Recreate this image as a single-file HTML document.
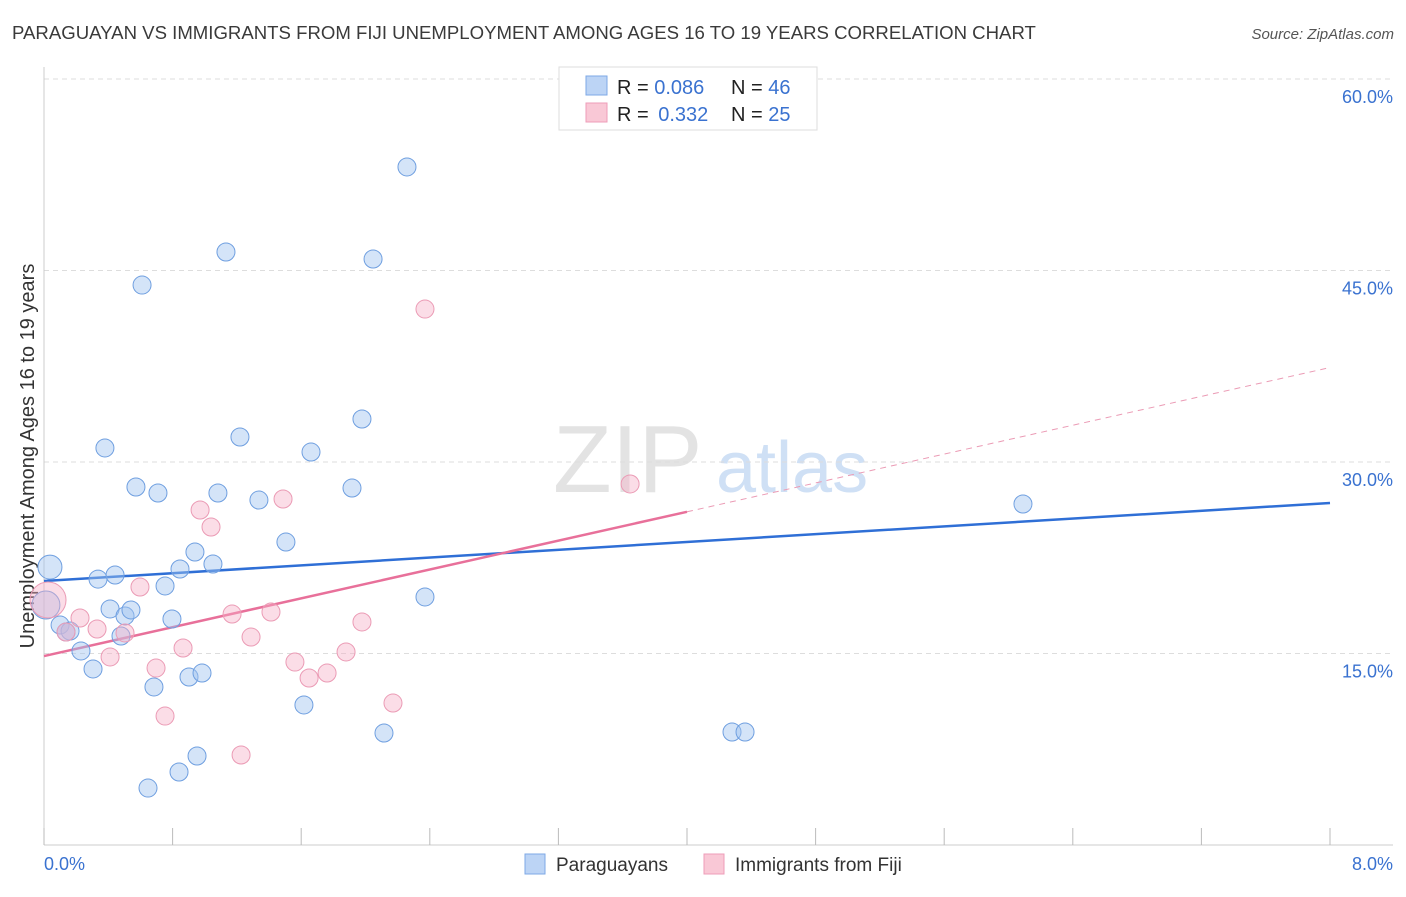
<!DOCTYPE html>
<html><head><meta charset="utf-8"><style>
body{margin:0;background:#fff;font-family:"Liberation Sans",sans-serif}
svg text{font-family:"Liberation Sans",sans-serif}
</style></head><body>
<svg id="chart" width="1406" height="892" viewBox="0 0 1406 892" xmlns="http://www.w3.org/2000/svg">
<text x="12" y="39" font-size="18.6" fill="#3a3a3a">PARAGUAYAN VS IMMIGRANTS FROM FIJI UNEMPLOYMENT AMONG AGES 16 TO 19 YEARS CORRELATION CHART</text>
<text x="1394" y="39" font-size="15" fill="#555" text-anchor="end" font-style="italic">Source: ZipAtlas.com</text>
<g>
<text x="553" y="492" font-size="96" font-family="Liberation Serif" fill="#e3e3e3">ZIP</text>
<text x="716" y="492" font-size="72" fill="#cfe0f5">atlas</text>
</g>
<g id="grid"></g>
<line x1="44" y1="67" x2="44" y2="845" stroke="#ccc"/>
<line x1="44" y1="845" x2="1393" y2="845" stroke="#ccc"/>
<g id="xticks"></g>
<text transform="translate(34,456) rotate(-90)" font-size="20" fill="#333" text-anchor="middle">Unemployment Among Ages 16 to 19 years</text>
<text x="44" y="870" font-size="18" fill="#3a72d0">0.0%</text>
<text x="1393" y="870" font-size="18" fill="#3a72d0" text-anchor="end">8.0%</text>
<g id="lines"></g>
<g id="points"></g>
<g>
<rect x="559" y="67" width="258" height="63" fill="#fff" stroke="#ddd"/>
<rect x="586" y="76" width="21" height="19" fill="#bcd4f5" stroke="#7ea8e6"/>
<rect x="586" y="103" width="21" height="19" fill="#f9c8d6" stroke="#ee9db8"/>
<text x="617" y="94" font-size="20" fill="#222">R = <tspan fill="#3a72d0">0.086</tspan><tspan x="731">N = </tspan><tspan fill="#3a72d0">46</tspan></text>
<text x="617" y="121" font-size="20" fill="#222">R = <tspan fill="#3a72d0" dx="4">0.332</tspan><tspan x="731">N = </tspan><tspan fill="#3a72d0">25</tspan></text>
</g>
<g>
<rect x="525" y="854" width="20" height="20" fill="#bcd4f5" stroke="#7ea8e6"/>
<text x="556" y="871" font-size="19" fill="#333">Paraguayans</text>
<rect x="704" y="854" width="20" height="20" fill="#f9c8d6" stroke="#ee9db8"/>
<text x="735" y="871" font-size="19" fill="#333">Immigrants from Fiji</text>
</g>
</svg>
<script>
const yTicks=[15,30,45,60];
const yTickLabels=["15.0%","30.0%","45.0%","60.0%"];
const xTicks=[0,0.8,1.6,2.4,3.2,4.0,4.8,5.6,6.4,7.2,8.0];
const blueX=[0.037,0.012,0.100,0.162,0.137,0.230,0.305,0.336,0.379,0.411,0.442,0.479,0.504,0.541,0.572,0.610,0.647,0.684,0.709,0.753,0.796,0.840,0.846,0.902,0.939,0.952,0.983,1.051,1.082,1.132,1.219,1.337,1.505,1.617,1.661,1.916,1.978,2.047,2.115,2.258,2.370,4.280,4.361,6.090];
const blueY=[21.77,18.80,17.23,16.76,16.68,15.20,13.79,20.83,31.10,18.49,21.15,16.37,17.94,18.41,28.04,43.86,4.46,12.38,27.57,20.29,17.70,5.72,21.62,13.16,22.95,6.97,13.47,22.01,27.57,46.45,31.96,27.02,23.73,10.97,30.78,27.96,33.37,45.90,8.77,53.11,19.43,8.85,8.85,26.71];
const pinkX=[0.025,0.137,0.224,0.330,0.411,0.504,0.597,0.697,0.753,0.865,0.971,1.039,1.170,1.226,1.288,1.412,1.487,1.561,1.649,1.761,1.879,1.978,2.171,2.370,3.646];
const pinkY=[19.19,16.68,17.78,16.92,14.73,16.61,20.21,13.86,10.10,15.43,26.24,24.91,18.09,7.05,16.29,18.25,27.10,14.33,13.08,13.47,15.12,17.47,11.12,41.98,28.28];
const blueTrend=[20.68,26.79];
const pinkTrend=[14.80,37.40];
const pinkSolidEnd=4.0;
const X0=44,X1=1330,Y0=845,YTOP=79;
const sx=v=>X0+(v/8)*(X1-X0);
const sy=v=>Y0-(v/60)*(Y0-YTOP);
const NS="http://www.w3.org/2000/svg";
function mk(tag,attrs,parent){const e=document.createElementNS(NS,tag);for(const k in attrs)e.setAttribute(k,attrs[k]);parent.appendChild(e);return e;}
const grid=document.getElementById('grid');
yTicks.forEach((t,i)=>{
  const l=mk('line',{x1:44,x2:1393,y1:sy(t),y2:sy(t),stroke:'#ddd','stroke-dasharray':'5,4'},grid);
  
  
  const tx=mk('text',{x:1393,y:sy(t)+24,'font-size':18,fill:'#3a72d0','text-anchor':'end'},grid);
  tx.textContent=yTickLabels[i];
  
  
});
const xt=document.getElementById('xticks');
xTicks.forEach(t=>{
  const l=mk('line',{x1:sx(t),x2:sx(t),y1:828,y2:845,stroke:'#bbb'},xt);
  
  
});
const pts=document.getElementById('points');
blueX.forEach((x,i)=>{
  const r=i===0?12:(i===1?14:9);
  const c=mk('circle',{cx:sx(x),cy:sy(blueY[i]),r:r,fill:'rgba(160,196,240,0.45)',stroke:'#6f9fe0','stroke-width':1},pts);
  
  
});
pinkX.forEach((x,i)=>{
  const r=i===0?18:9;
  const c=mk('circle',{cx:sx(x),cy:sy(pinkY[i]),r:r,fill:'rgba(245,175,198,0.42)',stroke:'#eb9bb5','stroke-width':1},pts);
  
  
});
const ln=document.getElementById('lines');
const pv=x=>pinkTrend[0]+(pinkTrend[1]-pinkTrend[0])*x/8;
const bl=mk('line',{x1:sx(0),y1:sy(blueTrend[0]),x2:sx(8),y2:sy(blueTrend[1]),stroke:'#2f6fd6','stroke-width':2.5},ln);


const pl=mk('line',{x1:sx(0),y1:sy(pv(0)),x2:sx(pinkSolidEnd),y2:sy(pv(pinkSolidEnd)),stroke:'#e8709a','stroke-width':2.5},ln);


const pd=mk('line',{x1:sx(pinkSolidEnd),y1:sy(pv(pinkSolidEnd)),x2:sx(8),y2:sy(pv(8)),stroke:'#eb9bb5','stroke-width':1,'stroke-dasharray':'6,5'},ln);


</script>
</body></html>
